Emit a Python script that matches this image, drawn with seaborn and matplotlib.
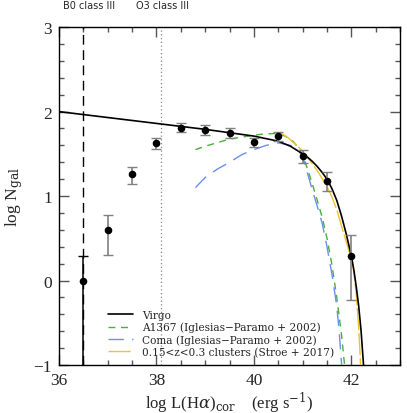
import numpy as np
import pandas as pd
import matplotlib
matplotlib.use("Agg")
import matplotlib.pyplot as plt
import seaborn as sns

# ---------------- data ----------------
pts_x = [36.5, 37.0, 37.5, 38.0, 38.5, 39.0, 39.5, 40.0, 40.5, 41.0, 41.5, 42.0]
pts_y = [0.00, 0.60, 1.26, 1.63, 1.81, 1.78, 1.75, 1.64, 1.71, 1.48, 1.18, 0.29]
pts_hi = [0.29, 0.78, 1.35, 1.69, 1.86, 1.84, 1.80, 1.69, 1.76, 1.54, 1.28, 0.54]
pts_lo = [-2.00, 0.30, 1.14, 1.56, 1.76, 1.72, 1.69, 1.58, 1.65, 1.39, 1.06, -0.23]

virgo_x = [36.0, 37.0, 38.0, 39.0, 39.5, 40.0, 40.5, 40.75, 41.0, 41.1, 41.2, 41.3,
           41.4, 41.5, 41.6, 41.7, 41.8, 41.9, 42.0, 42.05, 42.1, 42.15, 42.2, 42.25]
virgo_y = [2.00, 1.93, 1.86, 1.79, 1.75, 1.71, 1.65, 1.59, 1.50, 1.46, 1.41, 1.35,
           1.28, 1.20, 1.09, 0.95, 0.76, 0.54, 0.29, 0.13, -0.07, -0.30, -0.60, -1.00]

a1367_x = [38.8, 39.0, 39.5, 40.0, 40.2, 40.4, 40.5, 40.6, 40.7, 40.8, 40.9, 41.0,
           41.1, 41.2, 41.3, 41.4, 41.5, 41.6, 41.7, 41.8, 41.86]
a1367_y = [1.55, 1.59, 1.675, 1.72, 1.735, 1.74, 1.735, 1.72, 1.69, 1.65, 1.58, 1.49,
           1.32, 1.14, 0.95, 0.75, 0.50, 0.19, -0.20, -0.65, -1.00]

coma_x = [38.8, 39.0, 39.25, 39.5, 39.75, 40.0, 40.25, 40.5, 40.75, 40.9, 41.0,
          41.1, 41.2, 41.3, 41.4, 41.5, 41.6, 41.7, 41.75, 41.8]
coma_y = [1.10, 1.22, 1.32, 1.40, 1.49, 1.55, 1.60, 1.63, 1.60, 1.55, 1.47,
          1.27, 1.07, 0.88, 0.68, 0.40, 0.08, -0.30, -0.60, -1.00]

stroe_x = [40.5, 40.6, 40.7, 40.8, 40.9, 41.0, 41.1, 41.2, 41.3, 41.4, 41.5, 41.6,
           41.7, 41.8, 41.9, 42.0, 42.05, 42.1, 42.15, 42.19]
stroe_y = [1.75, 1.73, 1.69, 1.64, 1.59, 1.53, 1.46, 1.38, 1.30, 1.21, 1.11, 0.99,
           0.84, 0.64, 0.45, 0.26, 0.10, -0.15, -0.55, -1.00]

labels = ["Virgo", "A1367 (Iglesias\u2212Paramo + 2002)",
          "Coma (Iglesias\u2212Paramo + 2002)", "0.15<z<0.3 clusters (Stroe + 2017)"]
top_labels = ["B0 class III", "O3 class III"]
vlines_x = [36.5, 38.1]

# ---------------- style ----------------
sns.set_style("ticks")
plt.rcParams["font.family"] = ["Liberation Serif", "DejaVu Serif"]
plt.rcParams["mathtext.fontset"] = "dejavuserif"

fig = plt.figure(figsize=(4.07, 4.14), dpi=100)
ax = fig.add_axes([0.145, 0.116, 0.838, 0.816])

ax.axvline(vlines_x[0], color="black", lw=1.0, ls=(0, (7, 4)), zorder=1)
ax.axvline(vlines_x[1], color="#888888", lw=0.9, ls=(0, (1, 2)), zorder=1)

series = [
    (virgo_x, virgo_y, "black", "-", 1.2, 4),
    (a1367_x, a1367_y, "#4caf3c", (0, (5, 4)), 1.0, 3),
    (coma_x, coma_y, "#6a8ff0", (0, (11, 6)), 1.0, 3),
    (stroe_x, stroe_y, "#f5c02c", (0, (16, 2)), 1.0, 3),
]
for (sx, sy, col, ls, lw, z), lab in zip(series, labels):
    n0 = len(ax.lines)
    sns.lineplot(data=pd.DataFrame({"x": sx, "y": sy}), x="x", y="y", ax=ax,
                 color=col, lw=lw, sort=False, estimator=None, label=lab, zorder=z)
    ax.lines[n0].set_linestyle(ls)

pts_y_a = np.array(pts_y)
yerr = [pts_y_a - np.array(pts_lo), np.array(pts_hi) - pts_y_a]
ax.errorbar(pts_x[1:], pts_y[1:], yerr=[yerr[0][1:], yerr[1][1:]], fmt="none",
            ecolor="#808080", elinewidth=1.2, capsize=3.5, capthick=1.0, zorder=5)
ax.errorbar(pts_x[:1], pts_y[:1], yerr=[yerr[0][:1], yerr[1][:1]], fmt="none",
            ecolor="black", elinewidth=1.1, capsize=3.5, capthick=1.0, zorder=5)
sns.scatterplot(x=pts_x, y=pts_y, ax=ax, color="black", s=30,
                edgecolor="black", linewidth=0, zorder=6)

ax.set_xlim(36, 43)
ax.set_ylim(-1, 3)
ax.set_xticks([36, 38, 40, 42])
ax.set_xticks(np.arange(36, 43.01, 0.5), minor=True)
ax.set_yticks([-1, 0, 1, 2, 3])
ax.set_yticks(np.arange(-1, 3.01, 0.2), minor=True)
ax.set_yticklabels(["\u22121", "0", "1", "2", "3"])
ax.tick_params(which="both", direction="in", top=True, right=True,
               color="#555555", labelsize=12.5)
ax.tick_params(which="major", length=7, width=1.0, pad=5)
ax.tick_params(which="minor", length=3.5, width=1.0)
for s in ax.spines.values():
    s.set_linewidth(1.0)
    s.set_color("black")

ax.set_xlabel(r"log L(H$\alpha$)$_{\rm cor}$    (erg s$^{-1}$)", fontsize=12, labelpad=1)
ax.set_ylabel(r"log N$_{\rm gal}$", fontsize=12.5, labelpad=6)

leg = ax.legend(loc="lower left", bbox_to_anchor=(0.125, 0.005), frameon=False,
                prop={"family": "DejaVu Serif", "size": 7.6},
                handlelength=2.4, handletextpad=0.85,
                labelspacing=0.18, borderaxespad=0.2)

ax.text(36.62, 3.2, top_labels[0], ha="center", va="bottom", fontsize=7,
        family="DejaVu Sans")
ax.text(38.12, 3.2, top_labels[1], ha="center", va="bottom", fontsize=7,
        family="DejaVu Sans")

fig.savefig("out.png", dpi=100)
